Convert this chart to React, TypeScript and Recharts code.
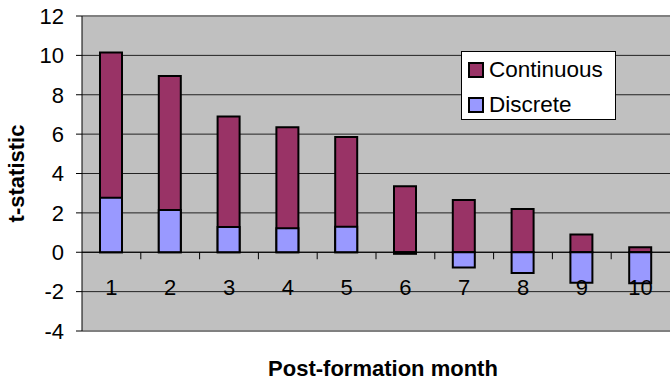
import React from 'react';
import { BarChart, Bar, XAxis, YAxis, CartesianGrid, ReferenceLine, Legend } from 'recharts';

const months = ['1', '2', '3', '4', '5', '6', '7', '8', '9', '10'];
const continuous = [10.15, 8.95, 6.9, 6.35, 5.85, 3.35, 2.65, 2.2, 0.9, 0.25];
const discrete = [2.77, 2.15, 1.28, 1.22, 1.3, -0.08, -0.78, -1.05, -1.55, -1.57];
const yTicks = [-4, -2, 0, 2, 4, 6, 8, 10, 12];
const seriesNames = ['Continuous', 'Discrete'];
const seriesColors = ['#993366', '#9999FF'];

const data = months.map((m, i) => ({ m, continuous: continuous[i], discrete: discrete[i] }));

const W = 671;
const H = 380;
const MARGIN = { top: 16, right: 1, left: 0, bottom: 0 };
const YAXIS_W = 82;
const XAXIS_H = 49;
const Y_MIN = -4;
const Y_MAX = 12;
const PLOT_TOP = MARGIN.top;
const PLOT_BOTTOM = H - MARGIN.bottom - XAXIS_H;
const PLOT_W = W - MARGIN.left - MARGIN.right - YAXIS_W;
const ZERO_Y = PLOT_BOTTOM - ((0 - Y_MIN) / (Y_MAX - Y_MIN)) * (PLOT_BOTTOM - PLOT_TOP);
const FONT = 'Arial, "Liberation Sans", sans-serif';

const XTick = (props: any) => {
  const { x, payload, index } = props;
  const band = PLOT_W / months.length;
  return (
    <g>
      <text x={x} y={ZERO_Y + 35} textAnchor="middle" dominantBaseline="central" fontFamily={FONT} fontSize={22} fill="#000">
        {payload.value}
      </text>
      {index < months.length - 1 && (
        <line x1={x + band / 2} x2={x + band / 2} y1={ZERO_Y} y2={ZERO_Y + 7} stroke="#000" strokeWidth={1} />
      )}
    </g>
  );
};

const LegendContent = () => (
  <div
    style={{
      background: '#fff',
      border: '1px solid #000',
      width: 153,
      height: 67,
      boxSizing: 'content-box',
      fontFamily: FONT,
      fontSize: 22.5,
      position: 'relative',
    }}
  >
    {seriesNames.map((n, i) => (
      <div key={n} style={{ position: 'absolute', left: 6, top: 9 + i * 35, display: 'flex', alignItems: 'center', height: 18 }}>
        <span
          style={{
            display: 'inline-block',
            width: 12,
            height: 12,
            background: seriesColors[i],
            border: '2px solid #000',
            marginRight: 5,
          }}
        />
        <span style={{ lineHeight: '18px', color: '#000' }}>{n}</span>
      </div>
    ))}
  </div>
);

const YTitle = () => (
  <text
    x={16}
    y={(PLOT_TOP + PLOT_BOTTOM) / 2}
    transform={`rotate(-90 16 ${(PLOT_TOP + PLOT_BOTTOM) / 2})`}
    textAnchor="middle"
    dominantBaseline="central"
    fontFamily={FONT}
    fontSize={22}
    fontWeight="bold"
    fill="#000"
  >
    t-statistic
  </text>
);

const XTitle = () => (
  <text
    x={MARGIN.left + YAXIS_W + PLOT_W / 2 + 7}
    y={368}
    textAnchor="middle"
    dominantBaseline="central"
    fontFamily={FONT}
    fontSize={22}
    fontWeight="bold"
    fill="#000"
  >
    Post-formation month
  </text>
);

export default function App() {
  return (
    <div style={{ position: 'absolute', left: 0, top: 0, width: W, height: H, background: '#fff' }}>
      <BarChart width={W} height={H} data={data} margin={MARGIN}>
        <CartesianGrid vertical={false} stroke="#222" strokeWidth={1} fill="#C0C0C0" fillOpacity={1} />
        <ReferenceLine y={Y_MAX} stroke="#808080" strokeWidth={2} />
        <ReferenceLine y={Y_MIN} stroke="#808080" strokeWidth={2} />
        <XAxis
          xAxisId="a"
          dataKey="m"
          height={XAXIS_H}
          axisLine={false}
          tickLine={false}
          tickSize={0}
          tickMargin={0}
          interval={0}
          tick={<XTick />}
          label={{ content: () => <XTitle /> }}
        />
        <XAxis xAxisId="b" dataKey="m" hide />
        <YAxis
          width={YAXIS_W}
          domain={[Y_MIN, Y_MAX]}
          ticks={yTicks}
          interval={0}
          axisLine={{ stroke: '#000', strokeWidth: 1 }}
          tickLine={{ stroke: '#000', strokeWidth: 1 }}
          tickSize={6}
          tickMargin={12}
          tick={{ fontFamily: FONT, fontSize: 22, fill: '#000' }}
          label={{ content: () => <YTitle /> }}
        />
        <ReferenceLine y={0} xAxisId="a" stroke="#000" strokeWidth={1} />
        <Bar xAxisId="a" dataKey="continuous" name={seriesNames[0]} fill={seriesColors[0]} stroke="#000" strokeWidth={2} barSize={22} isAnimationActive={false} />
        <Bar xAxisId="b" dataKey="discrete" name={seriesNames[1]} fill={seriesColors[1]} stroke="#000" strokeWidth={2} barSize={22} isAnimationActive={false} />
        <Legend
          content={<LegendContent />}
          wrapperStyle={{ position: 'absolute', left: 461, top: 51, width: 155, height: 0, overflow: 'visible' }}
        />
      </BarChart>
    </div>
  );
}
